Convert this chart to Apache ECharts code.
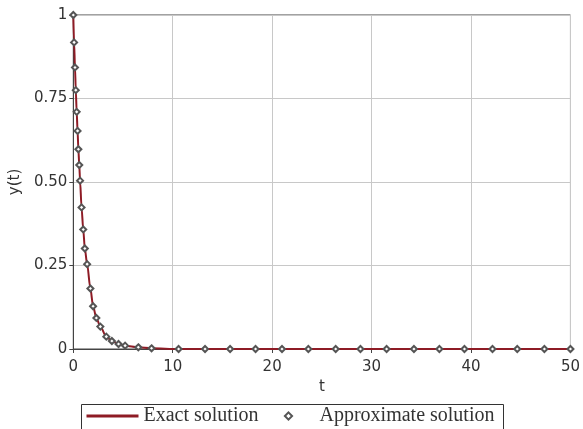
<!DOCTYPE html>
<html>
<head>
<meta charset="utf-8">
<script src="https://cdn.jsdelivr.net/npm/echarts@6/dist/echarts.min.js"></script>
<style>html,body{margin:0;padding:0;background:#fff;}#c{width:583px;height:429px;}</style>
</head>
<body>
<div id="c"></div>
<script>
var tValues = [0, 0.08, 0.17, 0.25, 0.34, 0.43, 0.51, 0.6, 0.68, 0.83, 1.0, 1.16, 1.39, 1.72, 1.99, 2.32, 2.72, 3.32, 3.88, 4.55, 5.21, 6.54, 7.87, 10.59, 13.25, 15.77, 18.33, 20.99, 23.64, 26.39, 28.88, 31.51, 34.26, 36.82, 39.34, 42.16, 44.65, 47.38, 50];
var yApprox = [1.0, 0.918, 0.843, 0.775, 0.71, 0.653, 0.598, 0.551, 0.504, 0.424, 0.358, 0.301, 0.254, 0.181, 0.128, 0.093, 0.067, 0.037, 0.024, 0.015, 0.01, 0.005, 0.002, 0, 0, 0, 0, 0, 0, 0, 0, 0, 0, 0, 0, 0, 0, 0, 0];
var yExact = [1.0, 0.918, 0.843, 0.775, 0.71, 0.653, 0.598, 0.551, 0.504, 0.424, 0.358, 0.301, 0.254, 0.181, 0.128, 0.093, 0.067, 0.037, 0.024, 0.015, 0.01, 0.005, 0.002, 0, 0, 0, 0, 0, 0, 0, 0, 0, 0, 0, 0, 0, 0, 0, 0];
var xTicks = [0, 10, 20, 30, 40, 50];
var yTickLabels = {0: '0', 0.25: '0.25', 0.5: '0.50', 0.75: '0.75', 1: '1'};
var seriesNames = ['Exact solution', 'Approximate solution'];

var chart = echarts.init(document.getElementById('c'));
function pairs(xs, ys){ return xs.map(function(x,i){return [x, ys[i]];}); }
var axisFont = {fontFamily: 'DejaVu Sans', fontSize: 15, color: '#333'};
chart.setOption({
  animation: false,
  backgroundColor: '#fff',
  grid: {left: 71, right: 10, top: 15, bottom: 80, show: true, borderColor: '#444', borderWidth: 1},
  xAxis: {
    type: 'value', min: 0, max: 50, interval: 10,
    name: 't', nameLocation: 'middle', nameGap: 30,
    nameTextStyle: axisFont,
    axisLine: {show: true, lineStyle: {color: '#444'}},
    axisTick: {show: true, length: 4, lineStyle: {color: '#444'}},
    axisLabel: Object.assign({margin: 11}, axisFont),
    splitLine: {show: true, lineStyle: {color: '#c8c8c8'}}
  },
  yAxis: {
    type: 'value', min: 0, max: 1, interval: 0.25,
    name: 'y(t)', nameLocation: 'middle', nameGap: 39, nameRotate: 90,
    nameTextStyle: axisFont,
    axisLine: {show: true, lineStyle: {color: '#444'}},
    axisTick: {show: true, length: 4, lineStyle: {color: '#444'}},
    axisLabel: Object.assign({margin: 6, formatter: function(v){ return yTickLabels[v] !== undefined ? yTickLabels[v] : v; }}, axisFont),
    splitLine: {show: true, lineStyle: {color: '#c8c8c8'}}
  },
  legend: {
    left: 85, top: 406, itemWidth: 52, itemHeight: 9, itemGap: 4,
    padding: 0,
    textStyle: {fontFamily: 'Liberation Serif', fontSize: 20, color: '#333'},
    data: [
      {name: seriesNames[0], itemStyle: {opacity: 0}, lineStyle: {width: 3, color: '#8e1b25'}},
      {name: seriesNames[1], lineStyle: {opacity: 0}}
    ]
  },
  graphic: [{
    type: 'rect', left: 79, top: 402, z: 100, silent: true,
    shape: {width: 422, height: 40},
    style: {fill: 'none', stroke: '#333', lineWidth: 1}
  }],
  series: [
    {
      name: seriesNames[0], type: 'line', data: pairs(tValues, yExact),
      smooth: 0.3, smoothMonotone: 'x', showSymbol: false, symbol: 'none',
      lineStyle: {color: '#8e1b25', width: 2}, itemStyle: {color: '#8e1b25'}, z: 2
    },
    {
      name: seriesNames[1], type: 'line', data: pairs(tValues, yApprox),
      symbol: 'emptyDiamond', symbolSize: 6, showAllSymbol: true,
      lineStyle: {width: 0, opacity: 0}, itemStyle: {color: '#555', borderWidth: 1}, z: 3
    }
  ]
});
</script>
</body>
</html>
